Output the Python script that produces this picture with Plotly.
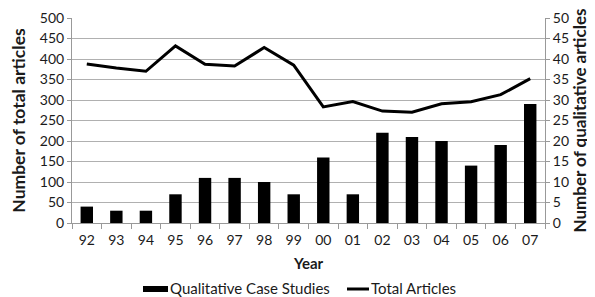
import plotly.graph_objects as go

years = ["92", "93", "94", "95", "96", "97", "98", "99", "00", "01", "02", "03", "04", "05", "06", "07"]
qualitative_case_studies = [4, 3, 3, 7, 11, 11, 10, 7, 16, 7, 22, 21, 20, 14, 19, 29]
total_articles = [388, 378, 370, 432, 387, 383, 428, 385, 283, 296, 273, 270, 291, 296, 313, 352]

legend_labels = ["Qualitative Case Studies", "Total Articles"]

font_family = "Lato, 'Open Sans', sans-serif"
txt = "#1a1a1a"

# the page body has an 8px margin, so the figure is drawn 8px in from the top-left
OFF = 8
W, H = 595 - OFF, 297 - OFF
L, R, T, B = 72 - OFF, 50, 18 - OFF, 74
pw, ph = W - L - R, H - T - B

fig = go.Figure()
fig.add_trace(go.Bar(
    x=years, y=qualitative_case_studies, name=legend_labels[0],
    marker=dict(color="black", line=dict(width=0)), yaxis="y2", width=0.42,
    showlegend=False,
))
fig.add_trace(go.Scatter(
    x=years, y=total_articles, name=legend_labels[1], mode="lines",
    line=dict(color="black", width=3), yaxis="y", showlegend=False,
))


def px(x):
    return (x - OFF - L) / pw


def py(y):
    return (H - B - (y - OFF)) / ph


shapes = [
    dict(type="rect", xref="paper", yref="paper", x0=px(143), x1=px(168), y0=py(292), y1=py(286),
         fillcolor="black", line=dict(width=0)),
    dict(type="line", xref="paper", yref="paper", x0=px(347), x1=px(369), y0=py(289), y1=py(289),
         line=dict(color="black", width=3)),
]
annotations = [
    dict(text=legend_labels[0], xref="paper", yref="paper", x=px(168), y=py(288), xanchor="left",
         yanchor="middle", showarrow=False, font=dict(size=15, color=txt)),
    dict(text=legend_labels[1], xref="paper", yref="paper", x=px(369), y=py(288), xanchor="left",
         yanchor="middle", showarrow=False, font=dict(size=15, color=txt)),
]

fig.update_layout(
    width=W, height=H,
    margin=dict(l=L, r=R, t=T, b=B),
    paper_bgcolor="white", plot_bgcolor="white",
    font=dict(family=font_family, size=14, color=txt),
    showlegend=False,
    shapes=shapes, annotations=annotations,
    xaxis=dict(
        title=dict(text="<b>Year</b>", font=dict(size=15), standoff=11),
        tickfont=dict(size=14), showline=True, linecolor="#999", ticks="outside",
        ticklen=5, tickcolor="#999", tickson="boundaries", showgrid=False, automargin=False,
        ticklabelstandoff=4,
    ),
    yaxis=dict(
        title=dict(text="<b>Number of total articles</b>", font=dict(size=17.5), standoff=13),
        range=[0, 500], dtick=50, tickfont=dict(size=14),
        showgrid=True, gridcolor="#b0b0b0", gridwidth=1,
        showline=True, linecolor="#999", ticks="outside", ticklen=4, tickcolor="#999",
        zeroline=False, automargin=False,
    ),
    yaxis2=dict(
        title=dict(text="<b>Number of qualitative articles</b>", font=dict(size=17), standoff=2),
        range=[0, 50], dtick=5, tickfont=dict(size=14), overlaying="y", side="right",
        showgrid=False, showline=True, linecolor="#999", ticks="outside", ticklen=4,
        tickcolor="#999", zeroline=False, automargin=False,
    ),
)

fig.write_html("out.html")
